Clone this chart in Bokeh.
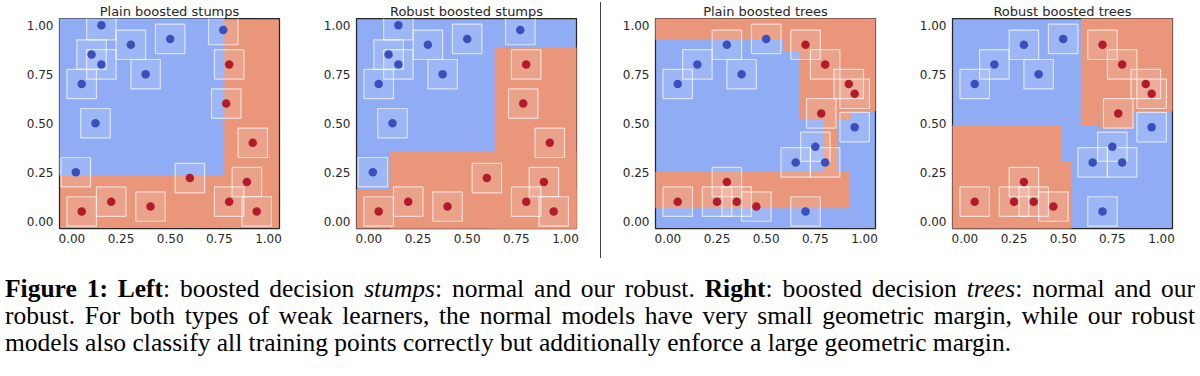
from bokeh.plotting import figure
from bokeh.models import Div, FixedTicker, NumeralTickFormatter, Range1d
from bokeh.layouts import row, column
from bokeh.embed import file_html
from bokeh.resources import INLINE

# ---------------- data ----------------
# stumps dataset (left two panels)
stumps_blue_x = [0.15, 0.10, 0.15, 0.30, 0.50, 0.375, 0.05, 0.12, 0.02, 0.77]
stumps_blue_y = [1.00, 0.85, 0.80, 0.90, 0.93, 0.75, 0.70, 0.50, 0.25, 0.975]
stumps_red_x = [0.80, 0.785, 0.92, 0.60, 0.89, 0.80, 0.94, 0.05, 0.20, 0.40]
stumps_red_y = [0.80, 0.60, 0.40, 0.22, 0.20, 0.10, 0.05, 0.05, 0.10, 0.075]

# trees dataset (right two panels)
trees_blue_x = [0.05, 0.15, 0.30, 0.50, 0.375, 0.95, 0.75, 0.65, 0.80, 0.70]
trees_blue_y = [0.70, 0.80, 0.90, 0.93, 0.75, 0.48, 0.38, 0.30, 0.30, 0.05]
trees_red_x = [0.70, 0.80, 0.92, 0.95, 0.78, 0.30, 0.05, 0.25, 0.35, 0.45]
trees_red_y = [0.90, 0.80, 0.70, 0.65, 0.55, 0.20, 0.10, 0.10, 0.10, 0.075]

EPS = 0.075  # half side of the l_inf perturbation box

# decision regions: rectangles (left, right, bottom, top) of the minority class
plain_stumps_blue_l = [-0.2]
plain_stumps_blue_r = [0.775]
plain_stumps_blue_b = [0.235]
plain_stumps_blue_t = [1.2]

robust_stumps_red_l = [0.64, 0.107, -0.2]
robust_stumps_red_r = [1.2, 1.2, 1.2]
robust_stumps_red_b = [-0.2, -0.2, -0.2]
robust_stumps_red_t = [0.886, 0.357, 0.163]

plain_trees_red_l = [-0.2, 0.59, 0.67, 0.67, 0.79, -0.2]
plain_trees_red_r = [0.59, 0.67, 1.2, 0.93, 0.865, 0.925]
plain_trees_red_b = [0.925, 0.866, 0.562, 0.516, 0.25, 0.066]
plain_trees_red_t = [1.2, 1.2, 1.2, 0.562, 0.516, 0.252]

robust_trees_red_l = [0.59, 0.59, 0.68, -0.2, 0.492]
robust_trees_red_r = [1.2, 0.68, 0.861, 0.492, 0.542]
robust_trees_red_b = [0.56, 0.49, 0.473, -0.2, -0.2]
robust_trees_red_t = [1.2, 0.56, 0.56, 0.49, 0.303]

titles = ["Plain boosted stumps", "Robust boosted stumps",
          "Plain boosted trees", "Robust boosted trees"]
tick_values = [0.0, 0.25, 0.5, 0.75, 1.0]
x_limits = (-0.063, 1.056)
y_limits = (-0.037, 1.034)

caption_lines = [
    "<b>Figure 1: Left</b>: boosted decision <i>stumps</i>: normal and our robust. "
    "<b>Right</b>: boosted decision <i>trees</i>: normal and our",
    "robust. For both types of weak learners, the normal models have very small geometric "
    "margin, while our robust",
    "models also classify all training points correctly but additionally enforce a large "
    "geometric margin.",
]

# ---------------- styles ----------------
BLUE_BG = "#90acf4"
RED_BG = "#e9967b"
BLUE_PT = "#3a4fbc"
RED_PT = "#b21c2a"
TXT = "#262626"
CAPTION_W = 1190


def make_panel(title, bl, br, bg, qcolor, ql, qr, qb, qt, bx, by, rx, ry):
    p = figure(title=title, frame_width=220, frame_height=210,
               min_border_left=bl, min_border_right=br,
               min_border_top=18, min_border_bottom=47,
               x_range=Range1d(*x_limits), y_range=Range1d(*y_limits),
               toolbar_location=None, output_backend="svg")
    p.title.align = "center"
    p.title.text_font = "DejaVu Sans"
    p.title.text_font_size = "13px"
    p.title.text_font_style = "normal"
    p.title.text_color = TXT
    p.title.standoff = 0
    p.background_fill_color = bg
    p.border_fill_color = "white"
    p.outline_line_color = TXT
    p.outline_line_width = 1.25
    p.grid.visible = False
    p.quad(left=ql, right=qr, bottom=qb, top=qt, fill_color=qcolor, line_color=None)
    for xs, ys in ((bx, by), (rx, ry)):
        p.rect(x=xs, y=ys, width=2 * EPS, height=2 * EPS,
               fill_color="white", fill_alpha=0.12,
               line_color="white", line_alpha=0.65, line_width=1.2)
    p.scatter(x=bx, y=by, size=8.5, color=BLUE_PT, line_color=None)
    p.scatter(x=rx, y=ry, size=8.5, color=RED_PT, line_color=None)
    for ax in (p.xaxis[0], p.yaxis[0]):
        ax.ticker = FixedTicker(ticks=tick_values)
        ax.formatter = NumeralTickFormatter(format="0.00")
        ax.major_tick_line_color = None
        ax.minor_tick_line_color = None
        ax.major_tick_out = 0
        ax.major_tick_in = 0
        ax.minor_tick_out = 0
        ax.axis_line_color = None
        ax.major_label_text_font = "DejaVu Sans"
        ax.major_label_text_font_size = "12px"
        ax.major_label_text_color = TXT
    p.xaxis[0].major_label_standoff = 5
    p.yaxis[0].major_label_standoff = 6
    return p


p1 = make_panel(titles[0], 59, 21, RED_BG, BLUE_BG,
                plain_stumps_blue_l, plain_stumps_blue_r, plain_stumps_blue_b, plain_stumps_blue_t,
                stumps_blue_x, stumps_blue_y, stumps_red_x, stumps_red_y)
p2 = make_panel(titles[1], 56, 20, BLUE_BG, RED_BG,
                robust_stumps_red_l, robust_stumps_red_r, robust_stumps_red_b, robust_stumps_red_t,
                stumps_blue_x, stumps_blue_y, stumps_red_x, stumps_red_y)
p3 = make_panel(titles[2], 49, 25, BLUE_BG, RED_BG,
                plain_trees_red_l, plain_trees_red_r, plain_trees_red_b, plain_trees_red_t,
                trees_blue_x, trees_blue_y, trees_red_x, trees_red_y)
p4 = make_panel(titles[3], 52, 20, BLUE_BG, RED_BG,
                robust_trees_red_l, robust_trees_red_r, robust_trees_red_b, robust_trees_red_t,
                trees_blue_x, trees_blue_y, trees_red_x, trees_red_y)

# vertical divider between the stumps half and the trees half
sep = Div(text="", width=6, height=256, margin=(2, 0, 0, 4),
          styles={"border-left": "1.8px solid #444444", "box-sizing": "border-box"})

justified = (f"display:block;width:{CAPTION_W}px;text-align:justify;"
             "text-align-last:justify;")
ragged = f"display:block;width:{CAPTION_W}px;text-align:left;"
caption_html = "".join(
    f'<div style="{justified if i < 2 else ragged}">{t}</div>'
    for i, t in enumerate(caption_lines))

cap = Div(text=caption_html, width=CAPTION_W, margin=(0, 0, 0, 5),
          styles={"font-family": "'Liberation Serif', 'Times New Roman', serif",
                  "font-size": "25.5px", "line-height": "27px", "color": "black"})

layout = column(row(p1, p2, sep, p3, p4), cap)

open("out.html", "w").write(file_html(layout, INLINE))
